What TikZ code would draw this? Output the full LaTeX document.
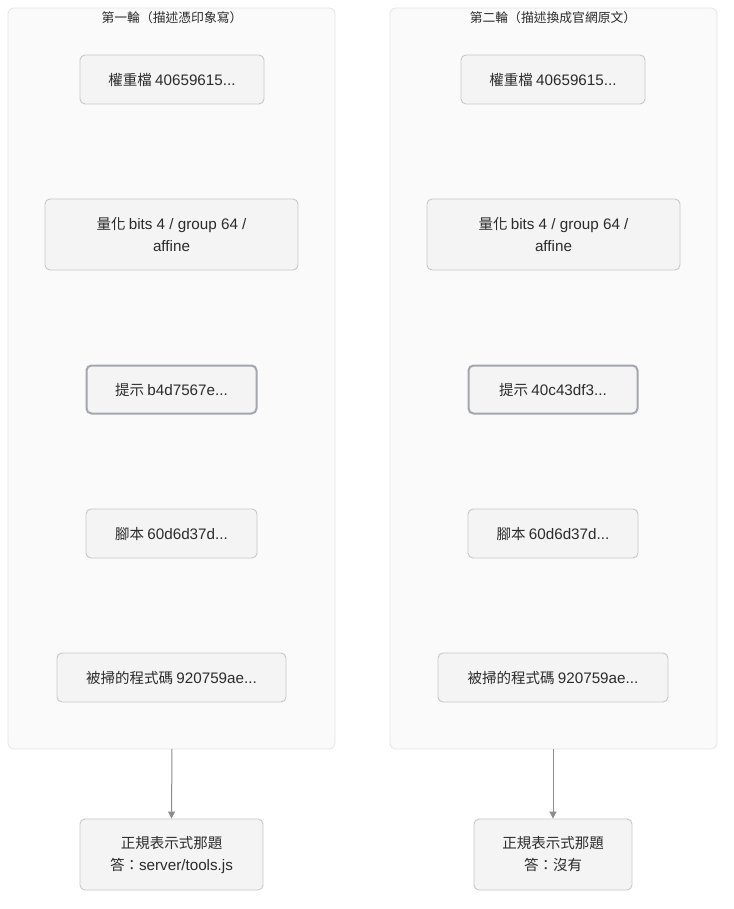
\documentclass[tikz,border=0pt]{standalone}
\usepackage{fontspec}
\setmainfont{Noto Sans CJK TC}
\newfontfamily\latf[Scale=1.05]{Liberation Sans}
\newcommand{\lt}[1]{{\latf #1}}
\usetikzlibrary{arrows.meta}
\definecolor{clfill}{HTML}{FAFAFA}
\definecolor{cldraw}{HTML}{E4E4E6}
\definecolor{bxfill}{HTML}{F4F4F4}
\definecolor{bxdraw}{HTML}{C6C7CB}
\definecolor{bxdark}{HTML}{A3A6AC}
\definecolor{txt}{HTML}{2B2B2B}
\definecolor{arr}{HTML}{8C8C8C}
\tikzset{
  cluster/.style={draw=cldraw, fill=clfill, rounded corners=6pt, line width=0.8pt},
  box/.style={draw=bxdraw, fill=bxfill, rounded corners=5pt, line width=0.9pt, text=txt,
    font=\fontsize{14.5}{22}\selectfont, align=center, inner sep=0pt, anchor=center},
  boxdark/.style={box, draw=bxdark, line width=2pt},
  ttl/.style={text=txt, font=\fontsize{12.8}{14}\selectfont, anchor=center},
  conn/.style={draw=arr, line width=1pt, -{Triangle[length=7pt,width=7pt]}}
}
\begin{document}
\begin{tikzpicture}[x=1pt,y=-1pt]
\useasboundingbox (0,0) rectangle (733,909);
% clusters
\draw[cluster] (8,8) rectangle (335,749);
\draw[cluster] (390,8) rectangle (717,749);
\coordinate (c1b) at (172,749);
\coordinate (c2b) at (553,749);
\node[ttl] (t1) at (172,17.5) {第一輪（描述憑印象寫）};
\node[ttl] (t2) at (553,17.5) {第二輪（描述換成官網原文）};
% left column
\node[box, minimum width=184pt, minimum height=49pt] (a1) at (172,79.5) {權重檔 \lt{40659615...}};
\node[box, minimum width=253pt, minimum height=71pt] (a2) at (171.5,234.5) {量化 \lt{bits 4 / group 64 /}\\\lt{affine}};
\node[boxdark, minimum width=170pt, minimum height=48pt] (a3) at (171.5,389.5) {提示 \lt{b4d7567e...}};
\node[box, minimum width=171pt, minimum height=49pt] (a4) at (171.5,533.5) {腳本 \lt{60d6d37d...}};
\node[box, minimum width=229pt, minimum height=49pt] (a5) at (171.5,677.5) {被掃的程式碼 \lt{920759ae...}};
\node[box, minimum width=183pt, minimum height=71pt] (a6) at (171.5,854.5) {正規表示式那題\\答：\lt{server/tools.js}};
% right column
\node[box, minimum width=184pt, minimum height=49pt] (b1) at (553,79.5) {權重檔 \lt{40659615...}};
\node[box, minimum width=253pt, minimum height=71pt] (b2) at (553.5,234.5) {量化 \lt{bits 4 / group 64 /}\\\lt{affine}};
\node[boxdark, minimum width=169pt, minimum height=48pt] (b3) at (553,389.5) {提示 \lt{40c43df3...}};
\node[box, minimum width=170pt, minimum height=49pt] (b4) at (553,533.5) {腳本 \lt{60d6d37d...}};
\node[box, minimum width=230pt, minimum height=49pt] (b5) at (553,677.5) {被掃的程式碼 \lt{920759ae...}};
\node[box, minimum width=158pt, minimum height=71pt] (b6) at (553,854.5) {正規表示式那題\\答：沒有};
% connectors
\draw[conn] (c1b) -- (a6.north);
\draw[conn] (c2b) -- (b6.north);
\end{tikzpicture}
\end{document}
